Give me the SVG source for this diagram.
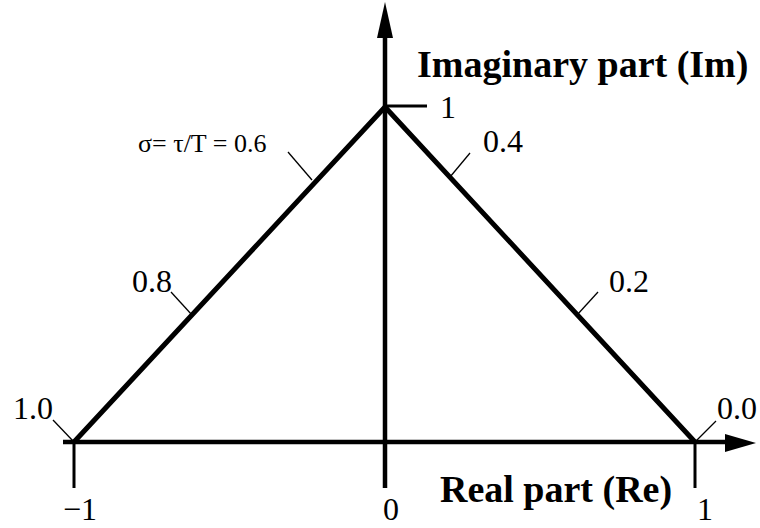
<svg xmlns="http://www.w3.org/2000/svg" width="760" height="528" viewBox="0 0 760 528">
<style>
text{font-family:"Liberation Serif","Times New Roman",serif;fill:#000}
.num{font-size:32px}
.bold{font-size:38px;font-weight:bold}
.axis{stroke:#000;stroke-width:4.5;fill:none}
.tri{stroke:#000;stroke-width:5;fill:none;stroke-linejoin:miter}
.tick{stroke:#000;stroke-width:3;fill:none}
.lead{stroke:#000;stroke-width:1.3;fill:none}
</style>
<rect width="760" height="528" fill="#fff"/>
<g id="connectors">
<line class="axis" x1="63" y1="442" x2="728" y2="442"/>
<polygon points="725,434 756,443 725,452" fill="#000"/>
<line class="axis" x1="385" y1="488" x2="385" y2="36"/>
<polygon points="377,38 385,2 393,38" fill="#000"/>
<polyline class="tri" points="74,442 385,107 695,442"/>
<line class="tick" x1="74" y1="442" x2="74" y2="488"/>
<line class="tick" x1="695" y1="442" x2="695" y2="488"/>
<line class="tick" x1="385" y1="106" x2="427" y2="106"/>
<line class="lead" x1="53" y1="420" x2="74" y2="442"/>
<line class="lead" x1="716" y1="421" x2="695" y2="442"/>
<line class="lead" x1="171" y1="292" x2="192" y2="315"/>
<line class="lead" x1="598" y1="292" x2="577" y2="315"/>
<line class="lead" x1="470" y1="153" x2="450" y2="177"/>
<line class="lead" x1="288" y1="152" x2="312" y2="180"/>
</g>
<g id="label-im"><text class="bold" x="417" y="77">Imaginary part (Im)</text></g>
<g id="label-re"><text class="bold" x="440" y="502">Real part (Re)</text></g>
<g id="label-apex"><text class="num" x="440" y="118">1</text></g>
<g id="label-04"><text class="num" x="483" y="152">0.4</text></g>
<g id="label-sigma"><text x="138" y="152" font-size="26">σ= τ/T = 0.6</text></g>
<g id="label-08"><text class="num" x="172" y="292" text-anchor="end">0.8</text></g>
<g id="label-02"><text class="num" x="609" y="292">0.2</text></g>
<g id="label-10"><text class="num" x="13" y="419">1.0</text></g>
<g id="label-00"><text class="num" x="717" y="419">0.0</text></g>
<g id="label-m1"><text class="num" x="63" y="520">−1</text></g>
<g id="label-0"><text class="num" x="383" y="520">0</text></g>
<g id="label-1"><text class="num" x="697" y="520">1</text></g>
</svg>
